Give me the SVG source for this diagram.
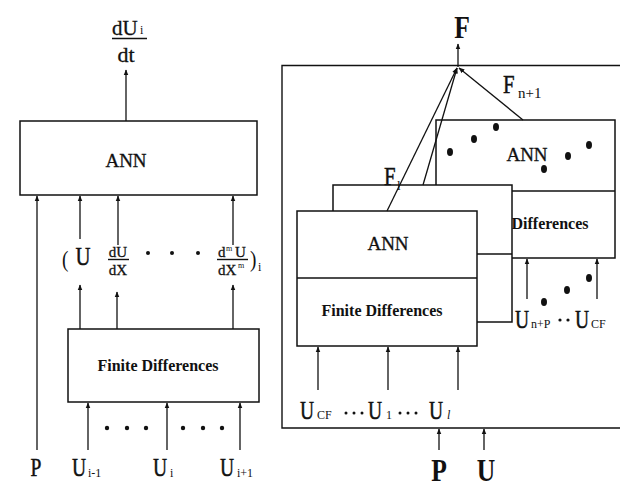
<svg xmlns="http://www.w3.org/2000/svg" width="620" height="489" viewBox="0 0 620 489">
<defs>
<marker id="ah" viewBox="0 0 10 10" refX="9" refY="5" markerWidth="6" markerHeight="7" orient="auto" markerUnits="userSpaceOnUse">
<path d="M0,1 L10,5 L0,9 Z" fill="#111"/>
</marker>
</defs>
<style>
text{font-family:"Liberation Serif","Times New Roman",serif;fill:#111}
.box{fill:#fff;stroke:#111;stroke-width:1.5}
.ln{stroke:#111;stroke-width:1.4;fill:none}
.ar{stroke:#111;stroke-width:1.3;fill:none;marker-end:url(#ah)}
.big{font-size:32px;font-weight:bold}
.lab{font-size:26px;stroke:#111;stroke-width:0.5}
.sub{font-size:12px}
.ann{font-size:19px;stroke:#111;stroke-width:0.3}
.fd{font-size:16px;font-weight:bold}
.frac{stroke:#111;stroke-width:0.3}
.dot{fill:#111}
</style>
<rect width="620" height="489" fill="#fff"/>

<!-- LEFT -->
<g id="ann-left">
<rect class="box" x="20" y="121" width="237" height="74"/>
<text class="ann" x="126" y="167" text-anchor="middle">ANN</text>
</g>
<g id="fd-left">
<rect class="box" x="68" y="329" width="191" height="73"/>
<text class="fd" x="158" y="371" text-anchor="middle">Finite Differences</text>
</g>
<g id="out-left">
<text class="frac" x="112" y="35" font-size="21">dU</text>
<text x="140" y="34" class="sub">i</text>
<line class="ln" x1="112" y1="38.5" x2="147" y2="38.5" stroke-width="1.6"/>
<text class="frac" x="126" y="62" font-size="22" text-anchor="middle">dt</text>
</g>
<g id="mid-labels-left">
<text transform="translate(62,267) scale(0.8,1)" font-size="24">(</text>
<text transform="translate(83,265) scale(0.8,1)" class="lab" text-anchor="middle">U</text>
<text class="frac" x="118" y="257" font-size="15" text-anchor="middle">dU</text>
<line class="ln" x1="108" y1="259.5" x2="129" y2="259.5" stroke-width="1"/>
<text class="frac" x="118" y="275" font-size="15" text-anchor="middle">dX</text>
<circle class="dot" cx="148" cy="253" r="2"/>
<circle class="dot" cx="172" cy="253" r="2"/>
<circle class="dot" cx="198" cy="253" r="2"/>
<text class="frac" x="218" y="257" font-size="15">d</text>
<text x="226" y="251" font-size="8">m</text>
<text class="frac" x="235" y="257" font-size="15">U</text>
<line class="ln" x1="217" y1="259.5" x2="248" y2="259.5" stroke-width="1"/>
<text class="frac" x="218" y="275" font-size="15">dX</text>
<text x="238" y="268" font-size="8">m</text>
<text transform="translate(250,267) scale(0.8,1)" font-size="24">)</text>
<text x="258" y="271" class="sub">i</text>
</g>
<g id="dots-left">
<circle class="dot" cx="107" cy="428" r="2.2"/>
<circle class="dot" cx="127" cy="428" r="2.2"/>
<circle class="dot" cx="146" cy="428" r="2.2"/>
<circle class="dot" cx="183" cy="428" r="2.2"/>
<circle class="dot" cx="203" cy="428" r="2.2"/>
<circle class="dot" cx="222" cy="428" r="2.2"/>
</g>
<g id="in-labels-left">
<text transform="translate(36,476) scale(0.75,1)" class="lab" text-anchor="middle">P</text>
<text transform="translate(79,476) scale(0.75,1)" class="lab" text-anchor="middle">U</text>
<text x="88" y="477" class="sub">i-1</text>
<text transform="translate(160,476) scale(0.75,1)" class="lab" text-anchor="middle">U</text>
<text x="170" y="477" class="sub">i</text>
<text transform="translate(227,476) scale(0.75,1)" class="lab" text-anchor="middle">U</text>
<text x="237" y="477" class="sub">i+1</text>
</g>

<!-- RIGHT -->
<g id="outer-box">
<path class="ln" d="M620,65.5 H282 V428 H620" stroke-width="1.8"/>
</g>
<g id="ann-back">
<rect class="box" x="436" y="120" width="179" height="138"/>
<line class="ln" x1="436" y1="191" x2="615" y2="191"/>
<text class="ann" x="527" y="161" text-anchor="middle">ANN</text>
<text class="fd" x="550" y="229" font-size="15" text-anchor="middle">Differences</text>
<ellipse class="dot" cx="450" cy="152" rx="3" ry="4"/>
<ellipse class="dot" cx="474" cy="139" rx="3" ry="4"/>
<ellipse class="dot" cx="496" cy="127" rx="3" ry="4"/>
<ellipse class="dot" cx="544" cy="169" rx="3" ry="4"/>
<ellipse class="dot" cx="568" cy="156" rx="3" ry="4"/>
<ellipse class="dot" cx="589" cy="145" rx="3" ry="4"/>
</g>
<g id="ann-middle">
<rect class="box" x="333" y="185" width="179" height="137"/>
<line class="ln" x1="333" y1="254" x2="512" y2="254"/>
</g>
<g id="ann-front">
<rect class="box" x="297" y="211" width="180" height="135"/>
<line class="ln" x1="297" y1="278" x2="477" y2="278"/>
<text class="ann" x="388" y="250" text-anchor="middle">ANN</text>
<text class="fd" x="382" y="316" font-size="15" text-anchor="middle">Finite Differences</text>
</g>
<g id="labels-right">
<text transform="translate(462,38) scale(0.8,1)" class="big" text-anchor="middle">F</text>
<text transform="translate(503,93) scale(0.8,1)" class="lab">F</text>
<text x="518" y="98" font-size="15">n+1</text>
<text transform="translate(384,185) scale(0.8,1)" class="lab">F</text>
<text x="397" y="190" font-size="13">l</text>
<text transform="translate(515,328) scale(0.75,1)" class="lab">U</text>
<text x="531" y="328" class="sub">n+P</text>
<circle class="dot" cx="560" cy="320" r="1.6"/>
<circle class="dot" cx="568" cy="320" r="1.6"/>
<text transform="translate(575,328) scale(0.75,1)" class="lab">U</text>
<text x="591" y="328" class="sub">CF</text>
<ellipse class="dot" cx="544" cy="302" rx="3" ry="4"/>
<ellipse class="dot" cx="567" cy="290" rx="3" ry="4"/>
<ellipse class="dot" cx="589" cy="278" rx="3" ry="4"/>
<text transform="translate(300,419) scale(0.75,1)" class="lab">U</text>
<text x="317" y="419" class="sub">CF</text>
<circle class="dot" cx="346" cy="413" r="1.5"/>
<circle class="dot" cx="354" cy="413" r="1.5"/>
<circle class="dot" cx="362" cy="413" r="1.5"/>
<text transform="translate(368,419) scale(0.75,1)" class="lab">U</text>
<text x="386" y="419" class="sub">1</text>
<circle class="dot" cx="400" cy="413" r="1.5"/>
<circle class="dot" cx="408" cy="413" r="1.5"/>
<circle class="dot" cx="416" cy="413" r="1.5"/>
<text transform="translate(429,419) scale(0.75,1)" class="lab">U</text>
<text x="447" y="419" class="sub" font-style="italic">l</text>
<text transform="translate(439,481) scale(0.8,1)" class="big" text-anchor="middle">P</text>
<text transform="translate(486,481) scale(0.8,1)" class="big" text-anchor="middle">U</text>
</g>

<g id="connectors">
<line class="ar" x1="126" y1="121" x2="126" y2="70"/>
<line class="ar" x1="37" y1="450" x2="37" y2="196"/>
<line class="ar" x1="80" y1="239" x2="80" y2="196"/>
<line class="ar" x1="118" y1="245" x2="118" y2="196"/>
<line class="ar" x1="233" y1="245" x2="233" y2="196"/>
<line class="ar" x1="80" y1="329" x2="80" y2="285"/>
<line class="ar" x1="117" y1="329" x2="117" y2="292"/>
<line class="ar" x1="233" y1="329" x2="233" y2="285"/>
<line class="ar" x1="88" y1="450" x2="88" y2="403"/>
<line class="ar" x1="167" y1="450" x2="167" y2="403"/>
<line class="ar" x1="240" y1="450" x2="240" y2="403"/>
<line class="ar" x1="458" y1="67" x2="458" y2="44"/>
<line class="ar" x1="387" y1="211" x2="457" y2="68"/>
<line class="ar" x1="423" y1="185" x2="457" y2="68"/>
<line class="ar" x1="523" y1="120" x2="459" y2="68"/>
<line class="ar" x1="318" y1="390" x2="318" y2="347"/>
<line class="ar" x1="388" y1="390" x2="388" y2="347"/>
<line class="ar" x1="458" y1="390" x2="458" y2="347"/>
<line class="ar" x1="527" y1="299" x2="527" y2="259"/>
<line class="ar" x1="597" y1="299" x2="597" y2="259"/>
<line class="ar" x1="439" y1="450" x2="439" y2="429"/>
<line class="ar" x1="484" y1="450" x2="484" y2="429"/>
</g>
</svg>
